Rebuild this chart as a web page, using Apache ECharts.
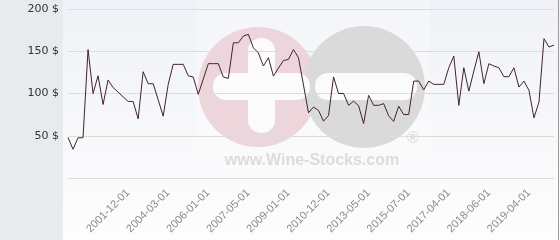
<!DOCTYPE html>
<html>
<head>
<meta charset="utf-8">
<script src="https://cdn.jsdelivr.net/npm/echarts@6/dist/echarts.min.js"></script>
<style>html,body{margin:0;padding:0;background:#fff;}#c{width:560px;height:240px;}</style>
</head>
<body>
<div id="c"></div>
<script>
const dates = [
  '1998-12-01','1999-03-01','1999-06-01','1999-09-01','1999-12-01','2000-03-01','2000-06-01','2000-09-01','2000-12-01','2001-03-01','2001-06-01','2001-09-01',
  '2001-12-01','2002-03-01','2002-07-01','2002-10-01','2003-01-01','2003-05-01','2003-08-01','2003-12-01',
  '2004-03-01','2004-06-01','2004-09-01','2004-11-01','2005-02-01','2005-05-01','2005-08-01','2005-10-01',
  '2006-01-01','2006-03-01','2006-05-01','2006-07-01','2006-09-01','2006-11-01','2007-01-01','2007-03-01',
  '2007-05-01','2007-07-01','2007-10-01','2007-12-01','2008-03-01','2008-05-01','2008-08-01','2008-10-01',
  '2009-01-01','2009-04-01','2009-07-01','2009-09-01','2009-12-01','2010-03-01','2010-06-01','2010-09-01',
  '2010-12-01','2011-03-01','2011-07-01','2011-11-01','2012-02-01','2012-06-01','2012-09-01','2013-01-01',
  '2013-05-01','2013-08-01','2013-11-01','2014-03-01','2014-06-01','2014-09-01','2014-12-01','2015-04-01',
  '2015-07-01','2015-10-01','2015-12-01','2016-03-01','2016-06-01','2016-08-01','2016-11-01','2017-01-01',
  '2017-04-01','2017-06-01','2017-07-01','2017-09-01','2017-11-01','2018-01-01','2018-02-01','2018-04-01',
  '2018-06-01','2018-07-01','2018-08-01','2018-10-01','2018-11-01','2018-12-01','2019-01-01','2019-03-01',
  '2019-04-01','2019-05-01','2019-06-01','2019-07-01','2019-08-01','2019-09-01'
];
const prices = [
  48, 34, 47.6, 47.6, 152, 100, 121, 87, 116, 107, 101.7, 96,
  90.6, 90.6, 70, 125.8, 111.6, 111.6, 92.6, 73.2,
  110.8, 134.5, 134.5, 134.5, 121, 119.5, 99, 117,
  135.3, 135.3, 135.3, 119.5, 117.9, 160, 160, 168,
  170, 154, 148, 132.5, 142.4, 120.6, 130, 139,
  140.4, 152, 142.4, 110, 77.2, 84, 80, 67.3,
  74, 119.7, 100, 100, 86, 91, 85.5, 64.4,
  97.8, 86, 86, 88, 73.6, 67, 85, 75.1,
  75.1, 114.7, 114.7, 104.3, 114.7, 110.8, 110.8, 110.8,
  130.5, 144.3, 85.9, 130.5, 102.8, 126.5, 149.5, 111.6,
  135.3, 132.5, 130.5, 119.9, 119.9, 130.5, 107.6, 114.7,
  103.7, 71.3, 89.8, 164.9, 155, 157.3
];
const yTicks = [0, 50, 100, 150, 200];
const watermarkText = 'www.Wine-Stocks.com';

const chart = echarts.init(document.getElementById('c'), null, {renderer: 'canvas'});
chart.setOption({
  animation: false,
  grid: {left: 68, right: 6, top: 9, bottom: 62, containLabel: false},
  graphic: [
    {type: 'rect', z: -20, shape: {x: 0, y: 0, width: 63, height: 240}, style: {fill: '#e7ebee'}},
    {type: 'rect', z: -20, shape: {x: 63, y: 0, width: 497, height: 240},
      style: {fill: new echarts.graphic.LinearGradient(0, 0, 0, 1, [{offset: 0, color: '#f0f2f7'}, {offset: 1, color: '#fdfdfd'}])}},
    {type: 'rect', z: -19, shape: {x: 197, y: 0, width: 233, height: 173}, style: {fill: '#ffffff', opacity: 0.25}},
    {type: 'circle', z: -18, shape: {cx: 258, cy: 87, r: 60}, style: {fill: '#edd6db'}},
    {type: 'rect', z: -17, shape: {x: 248, y: 38, width: 27, height: 95, r: 13}, style: {fill: '#fbfbfc'}},
    {type: 'rect', z: -17, shape: {x: 213, y: 73, width: 97, height: 27, r: 13}, style: {fill: '#fbfbfc'}},
    {type: 'circle', z: -18, shape: {cx: 364, cy: 87, r: 61}, style: {fill: '#dadadb'}},
    {type: 'rect', z: -16, shape: {x: 315, y: 73, width: 102, height: 27, r: 13}, style: {fill: '#fbfbfc'}},
    {type: 'text', z: -16, x: 413, y: 139, style: {text: '®', fill: '#d6d6d6', font: '16px "Liberation Sans"', align: 'center', verticalAlign: 'middle'}},
    {type: 'text', z: -16, x: 312, y: 161, style: {text: watermarkText, fill: '#dcdcdc', font: 'bold 16px "Liberation Sans"', align: 'center', verticalAlign: 'middle'}},
    {type: 'line', z: -15, shape: {x1: 558.5, y1: 0, x2: 558.5, y2: 240}, style: {stroke: '#9a9a9a', lineWidth: 1}}
  ],
  xAxis: {
    type: 'category',
    data: dates,
    boundaryGap: false,
    axisLine: {show: false},
    axisTick: {show: false},
    splitLine: {show: false},
    axisLabel: {
      rotate: 45,
      margin: 13,
      color: '#8a8a8a',
      fontFamily: 'Liberation Sans',
      fontSize: 11,
      interval: function (i) { return i >= 12 && (i - 12) % 8 === 0; }
    }
  },
  yAxis: {
    type: 'value',
    min: yTicks[0],
    max: yTicks[yTicks.length - 1],
    interval: 50,
    axisLine: {show: false},
    axisTick: {show: false},
    splitLine: {lineStyle: {color: '#dcdcdc', width: 1}},
    axisLabel: {
      margin: 9,
      color: '#333',
      fontFamily: 'DejaVu Sans',
      fontSize: 11,
      formatter: function (v) { return v === 0 ? '' : v + ' $'; }
    }
  },
  series: [{
    type: 'line',
    data: prices,
    showSymbol: false,
    symbol: 'none',
    lineStyle: {color: '#43222f', width: 1}
  }]
});
</script>
</body>
</html>
